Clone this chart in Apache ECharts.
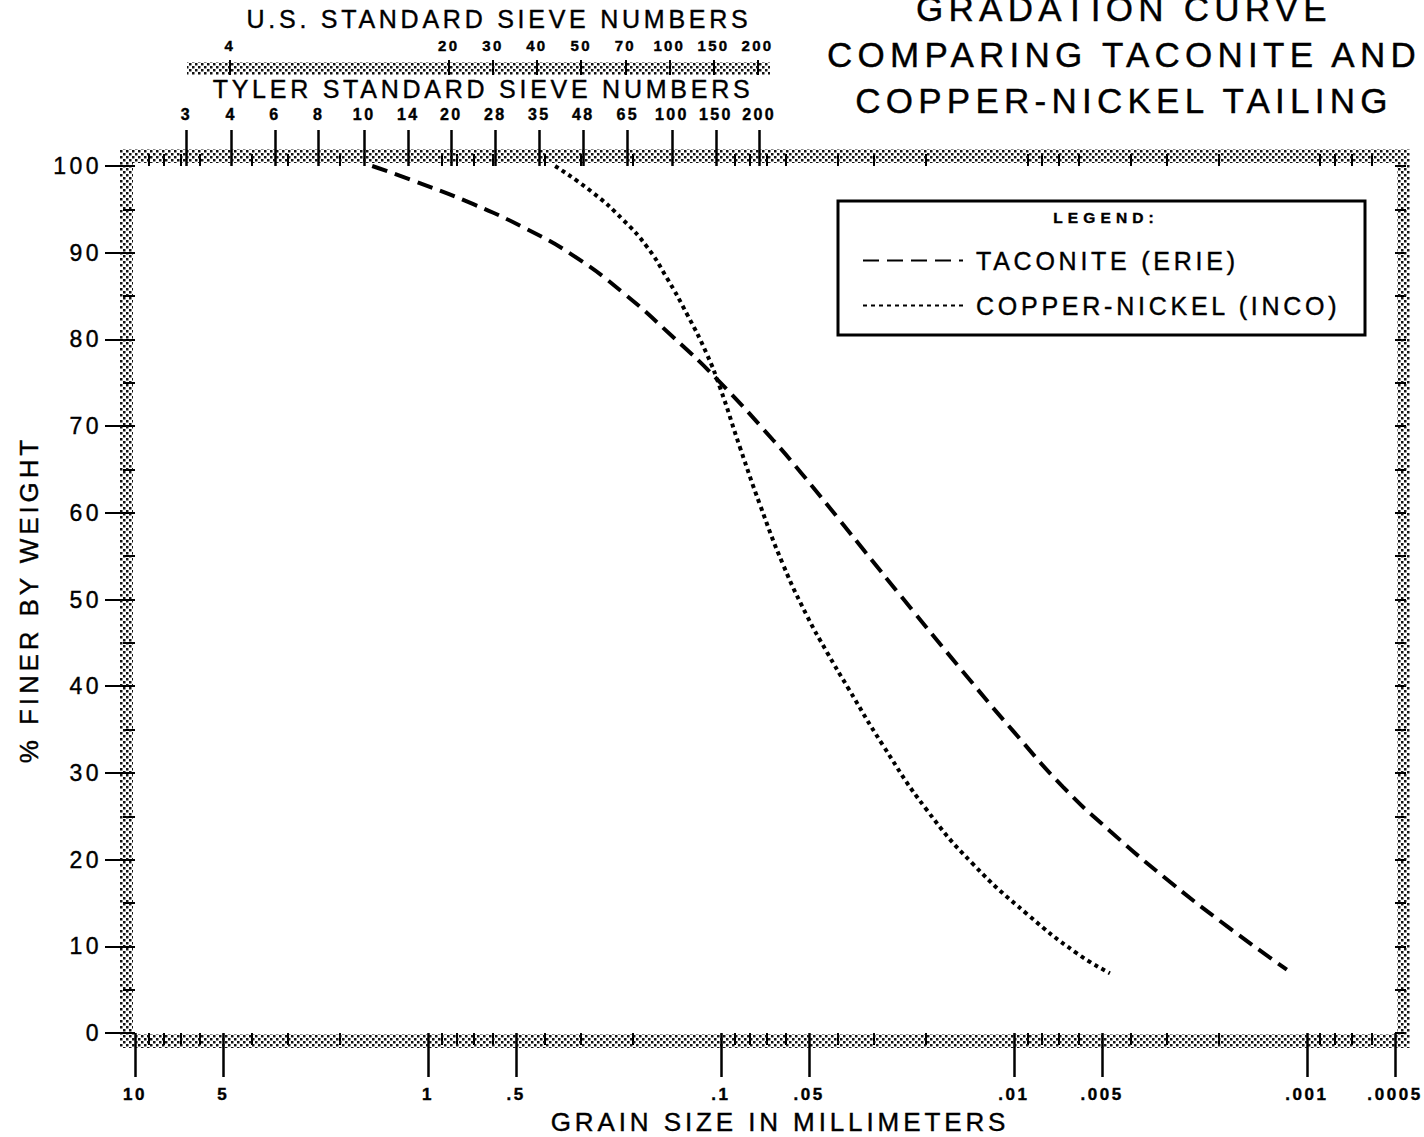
<!DOCTYPE html>
<html>
<head>
<meta charset="utf-8">
<title>Gradation curve - taconite vs copper-nickel tailing</title>
<script src="https://cdn.jsdelivr.net/npm/echarts@6/dist/echarts.min.js"></script>
<style>
  html, body { margin: 0; padding: 0; background: #fff; }
  #chart { width: 1424px; height: 1137px; }
  /* the original lettering is tracked out and a little heavy */
  #chart svg text { letter-spacing: 0.15em; stroke: #000; stroke-width: 0.4px; }
  #chart svg text[style*="15.5px"] { letter-spacing: 0.33em; }
</style>
</head>
<body>
<div id="chart"></div>
<script>
// grain size (mm) and % finer
const taconiteSize = [1.55, 1.12, 0.70, 0.459, 0.320, 0.216, 0.146, 0.103, 0.0664, 0.0532, 0.0392, 0.0322, 0.0243, 0.0142, 0.0101, 0.0068, 0.0047, 0.0029, 0.00187, 0.00117]
const taconitePct = [100, 98.3, 95.6, 92.7, 89.7, 85.4, 80.3, 75.4, 68.4, 64.6, 59.1, 55.5, 50.4, 40.8, 34.9, 28.4, 23.3, 17.3, 12.3, 7.3]
const copperSize = [0.368, 0.273, 0.216, 0.179, 0.153, 0.130, 0.112, 0.1006, 0.086, 0.0735, 0.0613, 0.0508, 0.0434, 0.0368, 0.028, 0.0199, 0.0138, 0.0090, 0.0061, 0.0047]
const copperPct = [100, 96.9, 93.8, 90.7, 87.1, 82.8, 78.4, 74.4, 67.5, 60.9, 54.0, 48.1, 43.9, 39.8, 33.2, 25.8, 19.5, 13.7, 9.2, 6.9]

// grain size scale
const sizeTicks = [10, 5, 1, 0.5, 0.1, 0.05, 0.01, 0.005, 0.001, 0.0005]
const sizeLabels = ['10', '5', '1', '.5', '.1', '.05', '.01', '.005', '.001', '.0005']
const minorMantissa = [2, 3, 4, 6, 7, 8, 9]
const minorDecades = [1, 0.1, 0.01, 0.001, 0.0001]

// sieve openings in mm
const tylerNumbers = ['3', '4', '6', '8', '10', '14', '20', '28', '35', '48', '65', '100', '150', '200']
const tylerOpening = [6.68, 4.699, 3.327, 2.362, 1.651, 1.168, 0.833, 0.589, 0.417, 0.295, 0.208, 0.147, 0.104, 0.074]
const usNumbers = ['4', '20', '30', '40', '50', '70', '100', '150', '200']
const usOpening = [4.75, 0.85, 0.6, 0.425, 0.3, 0.212, 0.15, 0.106, 0.075]

const FONT = '"Liberation Sans", Arial, sans-serif'
const SIZE_MIN = 0.0005
const SIZE_MAX = 10
const lg = v => Math.log10(v)

const minorSizes = []
minorDecades.forEach(d => minorMantissa.forEach(m => {
  const v = m * d
  if (v >= SIZE_MIN && v <= SIZE_MAX) minorSizes.push(v)
}))

function labelFor(value, sizes, labels) {
  let best = 0
  sizes.forEach((s, i) => {
    if (Math.abs(lg(s) - value) < Math.abs(lg(sizes[best]) - value)) best = i
  })
  return labels[best]
}

// tick-only axes laid out in log space so ticks can sit at any size
function scaleAxis(extra) {
  return Object.assign({
    type: 'value',
    gridIndex: 0,
    min: lg(SIZE_MIN),
    max: lg(SIZE_MAX),
    inverse: true,
    axisLine: { show: false, onZero: false },
    splitLine: { show: false },
    axisLabel: { show: false },
    axisPointer: { show: false }
  }, extra)
}

// stipple used for the frame bands
const tile = document.createElement('canvas')
tile.width = 6
tile.height = 6
const tctx = tile.getContext('2d')
tctx.fillStyle = '#fff'
tctx.fillRect(0, 0, 6, 6)
tctx.fillStyle = '#111'
tctx.fillRect(0, 0, 2.5, 2.5)
tctx.fillRect(3, 3, 2.5, 2.5)
const stipple = { image: tile, repeat: 'repeat', imageWidth: 6, imageHeight: 6 }

const tick = w => ({ color: '#000', width: w })

const option = {
  backgroundColor: '#fff',
  animation: false,
  textStyle: { fontFamily: FONT, color: '#000' },
  grid: { left: 135, right: 29, top: 166, bottom: 104, containLabel: false, outerBoundsMode: 'none' },
  legend: {
    data: ['TACONITE (ERIE)', 'COPPER-NICKEL (INCO)'],
    orient: 'vertical',
    left: 857,
    top: 243,
    itemWidth: 100,
    itemHeight: 12,
    itemGap: 20,
    selectedMode: false,
    itemStyle: { color: 'rgba(0,0,0,0)', borderWidth: 0, opacity: 0 },
    textStyle: { fontSize: 25, color: '#000', fontFamily: FONT, padding: [0, 0, 0, 8] }
  },
  xAxis: [
    // data axis
    { type: 'log', logBase: 10, min: SIZE_MIN, max: SIZE_MAX, inverse: true, show: false, axisLine: { onZero: false } },
    // bottom major ticks and labels
    scaleAxis({
      position: 'bottom',
      axisTick: { show: true, customValues: sizeTicks.map(lg), length: 44, lineStyle: tick(2.5) },
      axisLabel: {
        show: true, customValues: sizeTicks.map(lg), margin: 53, fontSize: 17, fontWeight: 'bold', color: '#000',
        formatter: v => labelFor(v, sizeTicks, sizeLabels)
      },
      name: 'GRAIN SIZE IN MILLIMETERS',
      nameLocation: 'middle',
      nameGap: 76,
      nameMoveOverlap: false,
      nameTextStyle: { fontSize: 26, color: '#000', padding: [0, 0, 0, 30] }
    }),
    // bottom minor ticks in the band
    scaleAxis({ position: 'bottom', axisTick: { show: true, customValues: minorSizes.map(lg), length: 12, lineStyle: tick(2) } }),
    // top minor ticks in the band
    scaleAxis({ position: 'top', axisTick: { show: true, customValues: minorSizes.map(lg), length: 12, lineStyle: tick(2) } }),
    // Tyler sieve scale
    scaleAxis({
      position: 'top',
      axisTick: { show: true, customValues: tylerOpening.map(lg), length: 36, lineStyle: tick(2.5) },
      axisLabel: {
        show: true, customValues: tylerOpening.map(lg), margin: 44, fontSize: 16, fontWeight: 'bold', color: '#000',
        formatter: v => labelFor(v, tylerOpening, tylerNumbers)
      }
    }),
    // U.S. sieve scale
    scaleAxis({
      position: 'top',
      offset: 91,
      axisTick: { show: true, customValues: usOpening.map(lg), length: 15, lineStyle: tick(2) },
      axisLabel: {
        show: true, customValues: usOpening.map(lg), margin: 22, fontSize: 15, fontWeight: 'bold', color: '#000',
        formatter: v => labelFor(v, usOpening, usNumbers)
      }
    })
  ],
  yAxis: [
    {
      type: 'value', min: 0, max: 100, interval: 10, position: 'left',
      axisLine: { show: false, onZero: false },
      axisTick: { show: true, length: 30, lineStyle: tick(2) },
      minorTick: { show: true, splitNumber: 2, length: 12, lineStyle: tick(2) },
      axisLabel: { margin: 33, fontSize: 23, color: '#000' },
      splitLine: { show: false },
      minorSplitLine: { show: false },
      name: '% FINER BY WEIGHT',
      nameLocation: 'middle',
      nameRotate: 90,
      nameGap: 93,
      nameMoveOverlap: false,
      nameTextStyle: { fontSize: 26, color: '#000' }
    },
    {
      type: 'value', min: 0, max: 100, interval: 5, position: 'right',
      axisLine: { show: false, onZero: false },
      axisTick: { show: true, length: 11, lineStyle: tick(2) },
      axisLabel: { show: false },
      splitLine: { show: false }
    }
  ],
  series: [
    {
      name: 'TACONITE (ERIE)',
      type: 'line',
      xAxisIndex: 0,
      yAxisIndex: 0,
      smooth: 0.5,
      symbol: 'none',
      data: taconiteSize.map((s, i) => [s, taconitePct[i]]),
      lineStyle: { color: '#000', width: 4, type: [16, 8] },
      itemStyle: { color: '#000' }
    },
    {
      name: 'COPPER-NICKEL (INCO)',
      type: 'line',
      xAxisIndex: 0,
      yAxisIndex: 0,
      smooth: 0.5,
      symbol: 'none',
      data: copperSize.map((s, i) => [s, copperPct[i]]),
      lineStyle: { color: '#000', width: 4, type: [4, 4] },
      itemStyle: { color: '#000' }
    }
  ],
  graphic: [
    // stippled frame around the plot
    { type: 'rect', z: -10, silent: true, shape: { x: 120, y: 149, width: 1290, height: 14 }, style: { fill: stipple } },
    { type: 'rect', z: -10, silent: true, shape: { x: 120, y: 1034, width: 1290, height: 14 }, style: { fill: stipple } },
    { type: 'rect', z: -10, silent: true, shape: { x: 120, y: 149, width: 13, height: 899 }, style: { fill: stipple } },
    { type: 'rect', z: -10, silent: true, shape: { x: 1397, y: 149, width: 13, height: 899 }, style: { fill: stipple } },
    // band of the U.S. sieve scale
    { type: 'rect', z: -10, silent: true, shape: { x: 187, y: 62, width: 583, height: 13 }, style: { fill: stipple } },
    // titles
    {
      type: 'text', x: 1124, y: 54, silent: true,
      style: {
        text: 'GRADATION CURVE\nCOMPARING TACONITE AND\nCOPPER-NICKEL TAILING',
        fontSize: 35, fontFamily: FONT, fill: '#000', align: 'center', verticalAlign: 'middle', lineHeight: 46
      }
    },
    {
      type: 'text', x: 499, y: 19, silent: true,
      style: { text: 'U.S. STANDARD SIEVE NUMBERS', fontSize: 25, fontFamily: FONT, fill: '#000', align: 'center', verticalAlign: 'middle' }
    },
    {
      type: 'text', x: 483, y: 89, silent: true,
      style: { text: 'TYLER STANDARD SIEVE NUMBERS', fontSize: 25, fontFamily: FONT, fill: '#000', align: 'center', verticalAlign: 'middle' }
    },
    // legend box
    {
      type: 'rect', z: -5, silent: true,
      shape: { x: 838, y: 201, width: 527, height: 134 },
      style: { fill: '#fff', stroke: '#000', lineWidth: 3 }
    },
    {
      type: 'text', x: 1106, y: 217, silent: true,
      style: { text: 'LEGEND:', fontSize: 15.5, fontWeight: 'bold', fontFamily: FONT, fill: '#000', align: 'center', verticalAlign: 'middle' }
    }
  ]
}

const chart = echarts.init(document.getElementById('chart'), null, { renderer: 'svg' })
chart.setOption(option)
</script>
</body>
</html>
